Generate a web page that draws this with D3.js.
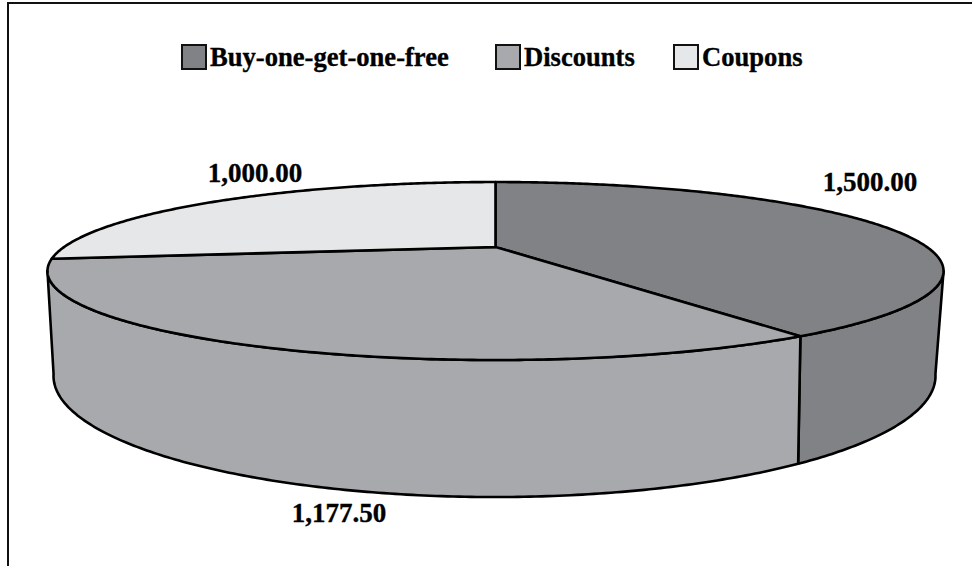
<!DOCTYPE html>
<html>
<head>
<meta charset="utf-8">
<style>html,body{margin:0;padding:0;background:#fff}svg{display:block}text{font-family:"Liberation Serif",serif;font-weight:bold;fill:#000;stroke:#000;stroke-width:.35px}</style>
<script src="https://cdn.jsdelivr.net/npm/d3@7"></script>
</head>
<body>
<svg id="c" width="972" height="566"></svg>
<script>
const categories = ["Buy-one-get-one-free", "Discounts", "Coupons"];
const values = [1500, 1177.5, 1000];
const colors = ["#808285", "#a7a9ac", "#e6e7e8"];
const legendX = [181, 495, 673];
const labelPos = [[870, 191], [339, 522], [255, 182]];

const svg = d3.select("#c");
const fmt = d3.format(",.2f");

// frame: top and left edges only
svg.append("path").attr("d", "M972,3H8V566").attr("fill", "none").attr("stroke", "#111").attr("stroke-width", 2);

// perspective projection of a disc: ellipse centre and pie centre differ
const P = 0.27;
const topDisc = {cx: 495.5, apex: 247, q: 82.5, s: 431.4, p: P};
const botDisc = {cx: 494.5, apex: 341.5, q: 111.2, s: 422.7, p: 0.285};
const project = (d, a) => {
  const w = 1 + d.p * Math.cos(a);
  return [d.cx + d.s * Math.sin(a) / w, d.apex - d.q * Math.cos(a) / w];
};
const samples = (a0, a1) => {
  const n = Math.max(2, Math.ceil(Math.abs(a1 - a0) / 0.01));
  return d3.range(n + 1).map(i => a0 + (a1 - a0) * i / n);
};
const line = d3.line();
const arcs = d3.pie().sort(null).value(d => d)(values);

const leftLimit = Math.PI + Math.acos(P);   // silhouette on the left
const rightLimit = Math.PI - Math.acos(P);  // silhouette on the right

const g = svg.append("g").attr("stroke", "#000").attr("stroke-width", 2.6).attr("stroke-linejoin", "round");

// side walls
arcs.forEach((d, i) => {
  const a0 = Math.max(d.startAngle, rightLimit), a1 = Math.min(d.endAngle, leftLimit);
  if (a1 <= a0) return;
  const pts = samples(a0, a1).map(a => project(topDisc, a))
    .concat(samples(a1, a0).map(a => project(botDisc, a)));
  g.append("path").attr("d", line(pts) + "Z").attr("fill", colors[i]);
});

// top surface
arcs.forEach((d, i) => {
  const pts = [[topDisc.cx, topDisc.apex]].concat(samples(d.startAngle, d.endAngle).map(a => project(topDisc, a)));
  g.append("path").attr("d", line(pts) + "Z").attr("fill", colors[i]);
});

// value labels
svg.selectAll("text.v").data(values).join("text").attr("class", "v")
  .attr("x", (d, i) => labelPos[i][0]).attr("y", (d, i) => labelPos[i][1])
  .attr("text-anchor", "middle").attr("font-size", 27).text(d => fmt(d));

// legend
const lg = svg.selectAll("g.l").data(categories).join("g").attr("class", "l")
  .attr("transform", (d, i) => `translate(${legendX[i]},0)`);
lg.append("rect").attr("x", 1).attr("y", 45).attr("width", 24).attr("height", 24)
  .attr("fill", (d, i) => colors[i]).attr("stroke", "#111").attr("stroke-width", 2);
lg.append("text").attr("x", 29).attr("y", 66).attr("font-size", 26.6).text(d => d);
</script>
</body>
</html>
